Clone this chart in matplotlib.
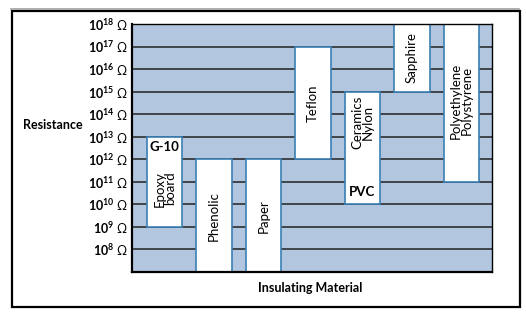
import matplotlib
matplotlib.use("Agg")
import matplotlib.pyplot as plt
from matplotlib.patches import Rectangle
from matplotlib.lines import Line2D

# ── data ─────────────────────────────────────────────────────────────────────
materials = ["G-10/Epoxy", "Phenolic", "Paper", "Teflon",
             "Ceramics/Nylon/PVC", "Sapphire", "Polyethylene/Polystyrene"]
low_exp  = [9, 7, 7, 12, 10, 15, 11]     # lower bound, log10(ohm)
high_exp = [13, 12, 12, 17, 15, 18, 18]  # upper bound, log10(ohm)
decades  = list(range(8, 19))
tick_labels = [rf"$\mathbf{{10^{{{d}}}}}$ Ω" for d in decades]

BG = "#b3c6e0"
EDGE = "#3a7fb5"

plt.rcParams["font.family"] = ["Lato", "DejaVu Sans"]
plt.rcParams["mathtext.fontset"] = "custom"
plt.rcParams["mathtext.rm"] = "Lato"
plt.rcParams["mathtext.it"] = "Lato"
plt.rcParams["mathtext.bf"] = "Lato:bold"

fig = plt.figure(figsize=(5.26, 3.15), dpi=100)
W, H = 526, 315

# outer frame (grey hairline above, black box)
fig.add_artist(Line2D([11 / W, 519 / W], [1 - 9 / H, 1 - 9 / H],
                      color="#a0a0a0", lw=1.2, transform=fig.transFigure))
fig.add_artist(Rectangle((11.5 / W, 1 - 306.5 / H), 508 / W, 295.5 / H,
                         fill=False, ec="black", lw=1.6,
                         transform=fig.transFigure))

ax = fig.add_axes([132 / W, 1 - 272 / H, 360 / W, 248 / H])
ax.set_facecolor(BG)
ax.set_xlim(-0.66, 6.62)
ax.set_ylim(7, 18)

for d in decades[:-1]:
    ax.axhline(d, color="#222222", lw=1.1, zorder=1)

width = 0.72
for i, (lo, hi) in enumerate(zip(low_exp, high_exp)):
    ax.add_patch(Rectangle((i - width / 2, lo), width, hi - lo,
                           fc="white", ec=EDGE, lw=1.2, zorder=2))

txt = dict(fontsize=9.5, color="black", zorder=3, ha="center", va="center")
ax.text(0, 12.55, "G-10", fontweight="bold", **txt)
ax.text(0, 10.7, "Epoxy\nboard", rotation=90, linespacing=0.85, **txt)
ax.text(1, 9.5, "Phenolic", rotation=90, **txt)
ax.text(2, 9.5, "Paper", rotation=90, **txt)
ax.text(3, 14.5, "Teflon", rotation=90, **txt)
ax.text(4, 13.65, "Ceramics\nNylon", rotation=90, linespacing=0.85, **txt)
ax.text(4, 10.55, "PVC", fontweight="bold", **txt)
ax.text(5, 16.5, "Sapphire", rotation=90, **txt)
ax.text(6, 14.6, "Polyethylene\nPolystyrene", rotation=90, linespacing=0.85, **txt)

ax.set_xticks([])
ax.set_yticks(decades)
ax.set_yticklabels(tick_labels, fontsize=9)
ax.tick_params(axis="y", length=0, pad=3)
for s in ax.spines.values():
    s.set_linewidth(1.6)
    s.set_color("black")
ax.spines["right"].set_linewidth(1.0)
ax.spines["top"].set_linewidth(1.0)

fig.text(53 / W, 1 - 125 / H, "Resistance", fontsize=9, fontweight="bold",
         ha="center", va="center")
fig.text(310 / W, 1 - 288 / H, "Insulating Material", fontsize=9,
         fontweight="bold", ha="center", va="center")

fig.savefig("out.png", dpi=100)
